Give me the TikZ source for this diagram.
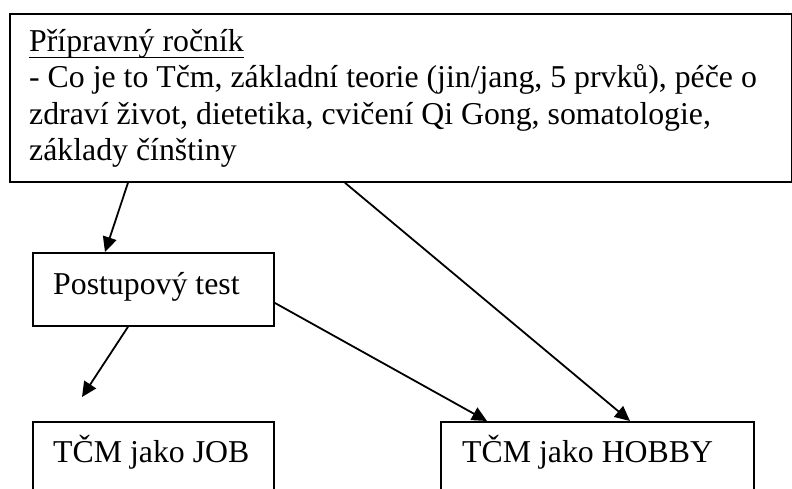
\documentclass[tikz,border=0pt]{standalone}
\usepackage{fontspec}
\setmainfont{Liberation Serif}
\usetikzlibrary{arrows.meta}
\newcommand\myul[1]{\setbox0\hbox{#1}\rlap{\rule[-6.5pt]{\wd0}{1.6pt}}\box0}
\tikzset{
  boxx/.style={draw, line width=1.8pt, rectangle, anchor=north west, inner sep=0pt},
  txt/.style={anchor=base west, inner sep=0pt, align=left, font=\fontsize{31.8}{36.3}\selectfont},
  arr/.style={line width=1.8pt, -{Triangle[length=15pt,width=14pt]}}
}
\begin{document}
\begin{tikzpicture}[x=1pt,y=1pt]
\useasboundingbox (0,0) rectangle (792,-488);
\clip (0,0) rectangle (792,-488);
\node[boxx, minimum width=782pt, minimum height=168pt] (top) at (9,-13) {};
\node[boxx, minimum width=241pt, minimum height=73pt] (post) at (32,-252) {};
\node[boxx, minimum width=241pt, minimum height=90pt] (job) at (32,-421) {};
\node[boxx, minimum width=313pt, minimum height=90pt] (hobby) at (440,-421) {};
\node[txt] (toptext) at (29,-160.5) {\myul{Přípravný ročník}\\- Co je to Tčm, základní teorie (jin/jang, 5 prvků), péče o\\zdraví život, dietetika, cvičení Qi Gong, somatologie,\\základy čínštiny};
\node[txt] (posttext) at (53,-294) {Postupový test};
\node[txt] (jobtext) at (53,-462) {TČM jako JOB};
\node[txt] (hobbytext) at (462,-462) {TČM jako HOBBY};
\coordinate (jobtip) at (82,-397);
\draw[arr] ([xshift=119pt]top.south west) -- ([xshift=73pt]post.north west);
\draw[arr] ([xshift=336pt]top.south west) -- ([xshift=190pt]hobby.north west);
\draw[arr] ([yshift=-13.5pt]post.east) -- ([xshift=47pt]hobby.north west);
\draw[arr] ([xshift=96pt]post.south west) -- (jobtip);
\end{tikzpicture}
\end{document}
